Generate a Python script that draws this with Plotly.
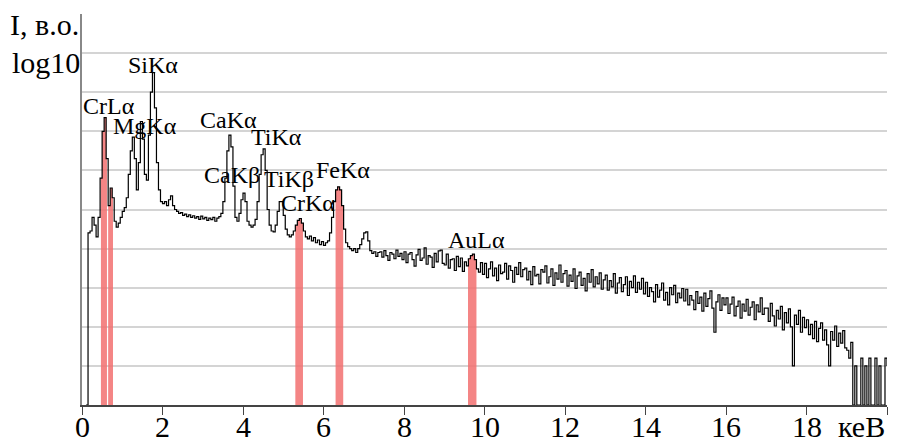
import numpy as np
import plotly.graph_objects as go

# Spectrum: intensity (log10 units, one grid step = 1) per 0.05 keV channel.
# Each block k covers energies k.00 .. k.95 keV.
block_00 = [0, 0, 0, 4.40, 4.45, 4.80, 4.60, 4.30, 4.80, 5.80, 7.00, 7.35, 6.30, 5.10, 5.55, 5.30, 4.70, 4.55, 4.65, 4.80]
block_01 = [4.95, 5.05, 5.30, 5.90, 6.50, 6.85, 6.30, 5.50, 6.20, 7.25, 6.80, 5.90, 5.75, 6.90, 8.00, 8.50, 7.60, 6.20, 5.50, 5.20]
block_02 = [5.15, 5.20, 5.10, 5.25, 5.35, 5.10, 5.00, 4.95, 4.90, 4.92, 4.85, 4.88, 4.82, 4.86, 4.80, 4.84, 4.78, 4.82, 4.75, 4.83]
block_03 = [4.76, 4.80, 4.72, 4.78, 4.74, 4.80, 4.70, 4.78, 4.82, 4.90, 5.20, 5.80, 6.50, 6.90, 6.60, 5.60, 4.80, 4.70, 4.90, 5.25]
block_04 = [5.42, 5.20, 4.70, 4.60, 4.55, 4.60, 4.75, 5.20, 5.90, 6.40, 6.55, 6.00, 5.00, 4.60, 4.45, 4.43, 4.60, 4.95, 5.20, 5.20]
block_05 = [4.85, 4.50, 4.35, 4.30, 4.35, 4.45, 4.60, 4.72, 4.77, 4.65, 4.45, 4.30, 4.25, 4.32, 4.20, 4.28, 4.15, 4.22, 4.10, 4.18]
block_06 = [4.08, 4.15, 4.20, 4.40, 4.80, 5.20, 5.50, 5.58, 5.50, 5.10, 4.50, 4.15, 4.05, 4.00, 3.95, 4.00, 3.90, 4.00, 4.10, 4.25]
block_07 = [4.40, 4.43, 4.20, 3.95, 3.88, 3.92, 3.80, 3.90, 3.92, 3.78, 3.95, 3.82, 3.70, 3.90, 3.86, 3.74, 3.96, 3.80, 3.88, 3.72]
block_08 = [3.92, 3.64, 3.86, 3.90, 3.72, 3.55, 3.84, 3.98, 3.70, 3.76, 4.02, 3.60, 3.82, 3.78, 3.52, 3.88, 3.66, 3.94, 3.96, 3.62]
block_09 = [3.58, 3.86, 3.50, 3.72, 3.74, 3.44, 3.80, 3.54, 3.76, 3.42, 3.66, 3.56, 3.74, 3.82, 3.86, 3.72, 3.48, 3.40, 3.64, 3.34]
block_10 = [3.62, 3.26, 3.48, 3.66, 3.30, 3.50, 3.18, 3.58, 3.36, 3.40, 3.62, 3.22, 3.56, 3.44, 3.14, 3.52, 3.34, 3.64, 3.28, 3.46]
block_11 = [3.50, 3.20, 3.42, 3.08, 3.54, 3.30, 3.34, 3.10, 3.46, 3.40, 3.56, 3.12, 3.28, 3.48, 3.06, 3.38, 3.22, 3.58, 3.14, 3.36]
block_12 = [3.44, 3.04, 3.32, 3.16, 3.48, 2.98, 3.30, 3.40, 3.06, 3.24, 2.92, 3.36, 3.14, 3.46, 3.02, 3.28, 3.10, 3.38, 2.96, 3.20]
block_13 = [3.32, 2.94, 3.18, 3.02, 3.36, 2.86, 3.12, 3.26, 2.90, 3.08, 3.28, 2.80, 3.16, 3.00, 3.30, 2.88, 3.14, 2.96, 3.24, 2.84]
block_14 = [3.14, 2.78, 3.00, 2.90, 2.64, 3.08, 2.76, 2.94, 3.12, 2.68, 2.88, 2.56, 3.00, 2.82, 3.06, 2.62, 2.86, 2.74, 2.98, 2.66]
block_15 = [2.96, 2.56, 2.80, 2.68, 2.44, 2.90, 2.60, 2.76, 2.40, 2.86, 2.52, 2.72, 2.92, 2.48, 1.86, 2.64, 2.82, 2.42, 2.74, 2.56]
block_16 = [2.74, 2.34, 2.58, 2.76, 2.28, 2.52, 2.66, 2.22, 2.58, 2.40, 2.70, 2.30, 2.50, 2.64, 2.18, 2.56, 2.38, 2.74, 2.32, 2.48]
block_17 = [2.48, 2.14, 2.60, 2.28, 2.02, 2.42, 2.20, 2.52, 1.92, 2.36, 2.10, 2.46, 2.00, 1.00, 2.30, 2.06, 2.42, 1.86, 2.24, 1.98]
block_18 = [2.18, 1.80, 2.06, 1.70, 2.14, 1.62, 1.96, 2.10, 1.66, 1.92, 1.54, 1.00, 1.88, 1.66, 2.02, 1.50, 1.84, 1.58, 1.90, 1.46]
block_19 = [1.40, 1.20, 1.60, 0, 1.00, 0, 0, 1.20, 0, 1.00, 0, 1.20, 0, 0, 1.20, 0, 1.00, 0, 0, 1.20]
last_channel = [1.00]  # 20.00 keV

blocks = [block_00, block_01, block_02, block_03, block_04, block_05, block_06, block_07,
          block_08, block_09, block_10, block_11, block_12, block_13, block_14, block_15,
          block_16, block_17, block_18, block_19]

# Highlighted regions of interest (keV)
roi_lo = [0.47, 0.65, 5.30, 6.30, 9.59]
roi_hi = [0.62, 0.77, 5.49, 6.49, 9.80]

# Peak labels and their positions (keV, intensity units)
peak_labels = ["SiKα", "CrLα", "MgKα", "CaKα", "TiKα", "CaKβ", "TiKβ", "CrKα", "FeKα", "AuLα"]
peak_label_x = [1.77, 0.67, 1.57, 3.63, 4.83, 3.73, 5.15, 5.62, 6.49, 9.80]
peak_label_y = [8.70, 7.65, 7.14, 7.29, 6.85, 5.88, 5.78, 5.17, 6.01, 4.22]

x_tick_vals = [0, 2, 4, 6, 8, 10, 12, 14, 16, 18, 20]
x_tick_text = ["0", "2", "4", "6", "8", "10", "12", "14", "16", "18", ""]
x_unit = "кеВ"
y_title_1 = "I, в.о."
y_title_2 = "log10"

# ---------------------------------------------------------------
energies = []
counts = []
for k, blk in enumerate(blocks):
    assert len(blk) == 20, (k, len(blk))
    for i, v in enumerate(blk):
        energies.append(round(k + 0.05 * i, 2))
        counts.append(v)
energies.append(20.0)
counts.append(last_channel[0])
energies = np.array(energies)
counts = np.array(counts, dtype=float)

start = 2  # skip the empty channels below the first signal
SERIF = "'Liberation Serif', 'Times New Roman', 'DejaVu Serif', serif"

fig = go.Figure()


def value_at(e):
    idx = np.searchsorted(energies, e + 1e-9, side="right") - 1
    return counts[max(idx, 0)]


for lo, hi in zip(roi_lo, roi_hi):
    xs = [lo]
    ys = [value_at(lo)]
    for e, c in zip(energies, counts):
        if lo < e < hi:
            xs.append(e)
            ys.append(c)
    xs.append(hi)
    ys.append(value_at(hi - 1e-6))
    fig.add_trace(go.Scatter(
        x=xs, y=ys, mode="lines", line=dict(shape="hv", width=0),
        fill="tozeroy", fillcolor="rgba(242,112,112,0.85)",
        hoverinfo="skip", showlegend=False))

fig.add_trace(go.Scatter(
    x=energies[start:], y=counts[start:], mode="lines",
    line=dict(shape="hv", color="black", width=1.2),
    showlegend=False))

TICK_Y = -0.056
annotations = []
for t, x, y in zip(peak_labels, peak_label_x, peak_label_y):
    annotations.append(dict(x=x, y=y, xref="x", yref="y", text=t, showarrow=False,
                            xanchor="center", yanchor="middle",
                            font=dict(family=SERIF, size=24, color="black")))
# x tick labels (drawn as text just under the axis)
for v, t in zip(x_tick_vals, x_tick_text):
    if t:
        annotations.append(dict(x=v, y=TICK_Y, xref="x", yref="paper", text=t,
                                showarrow=False, xanchor="center", yanchor="middle",
                                font=dict(family=SERIF, size=30, color="black")))
annotations.append(dict(x=20, y=TICK_Y, xref="x", yref="paper", text=x_unit,
                        showarrow=False, xanchor="right", yanchor="middle",
                        font=dict(family=SERIF, size=30, color="black")))
annotations.append(dict(x=0, y=0.972, xref="paper", yref="paper", text=y_title_1,
                        showarrow=False, xanchor="right", yanchor="middle", xshift=-1,
                        font=dict(family=SERIF, size=30, color="black")))
annotations.append(dict(x=0, y=0.875, xref="paper", yref="paper", text=y_title_2,
                        showarrow=False, xanchor="right", yanchor="middle", xshift=0,
                        font=dict(family=SERIF, size=30, color="black")))

fig.update_layout(
    width=901, height=445,
    margin=dict(l=82, r=14, t=14, b=40, autoexpand=False),
    paper_bgcolor="white", plot_bgcolor="white",
    annotations=annotations,
    xaxis=dict(range=[0, 20], tickmode="array", tickvals=x_tick_vals,
               showticklabels=False,
               ticks="outside", ticklen=8, tickwidth=1.2, tickcolor="#444",
               showline=True, linecolor="#444", linewidth=1.5, mirror=False,
               showgrid=False, zeroline=False, automargin=False),
    yaxis=dict(range=[0, 10], dtick=1, tick0=0, showticklabels=False, ticks="",
               showgrid=True, gridcolor="#d4d4d4", gridwidth=1.5, automargin=False,
               showline=True, linecolor="#888", linewidth=1.5, zeroline=False),
)

fig.write_html("out.html")
